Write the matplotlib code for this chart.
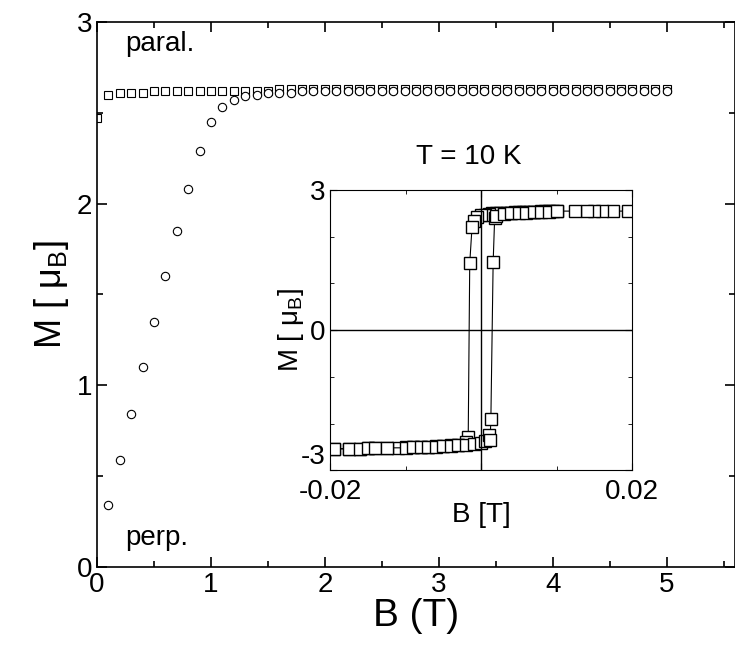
import matplotlib
matplotlib.use("Agg")
from matplotlib import pyplot as plt

plt.rcParams['font.family'] = ['Liberation Sans', 'DejaVu Sans']
plt.rcParams['axes.unicode_minus'] = False

# main panel
b_par = [0.0, 0.1, 0.2, 0.3, 0.4, 0.5, 0.6, 0.7, 0.8, 0.9, 1.0, 1.1, 1.2, 1.3, 1.4, 1.5,
         1.6, 1.7, 1.8, 1.9, 2.0, 2.1, 2.2, 2.3, 2.4, 2.5, 2.6, 2.7, 2.8, 2.9, 3.0,
         3.1, 3.2, 3.3, 3.4, 3.5, 3.6, 3.7, 3.8, 3.9, 4.0, 4.1, 4.2, 4.3, 4.4, 4.5,
         4.6, 4.7, 4.8, 4.9, 5.0]
m_par = [2.47, 2.60, 2.61, 2.61, 2.61, 2.62, 2.62, 2.62, 2.62, 2.62, 2.62, 2.62, 2.62,
         2.62, 2.62, 2.62, 2.63, 2.63, 2.63, 2.63, 2.63, 2.63, 2.63, 2.63, 2.63, 2.63,
         2.63, 2.63, 2.63, 2.63, 2.63, 2.63, 2.63, 2.63, 2.63, 2.63, 2.63, 2.63, 2.63,
         2.63, 2.63, 2.63, 2.63, 2.63, 2.63, 2.63, 2.63, 2.63, 2.63, 2.63, 2.63]
b_perp = [0.1, 0.2, 0.3, 0.4, 0.5, 0.6, 0.7, 0.8, 0.9, 1.0, 1.1, 1.2, 1.3, 1.4, 1.5,
          1.6, 1.7, 1.8, 1.9, 2.0, 2.1, 2.2, 2.3, 2.4, 2.5, 2.6, 2.7, 2.8, 2.9, 3.0,
          3.1, 3.2, 3.3, 3.4, 3.5, 3.6, 3.7, 3.8, 3.9, 4.0, 4.1, 4.2, 4.3, 4.4, 4.5,
          4.6, 4.7, 4.8, 4.9, 5.0]
m_perp = [0.34, 0.59, 0.84, 1.10, 1.35, 1.60, 1.85, 2.08, 2.29, 2.45, 2.53, 2.57, 2.59,
          2.60, 2.61, 2.61, 2.61, 2.62, 2.62, 2.62, 2.62, 2.62, 2.62, 2.62, 2.62, 2.62,
          2.62, 2.62, 2.62, 2.62, 2.62, 2.62, 2.62, 2.62, 2.62, 2.62, 2.62, 2.62, 2.62,
          2.62, 2.62, 2.62, 2.62, 2.62, 2.62, 2.62, 2.62, 2.62, 2.62, 2.62]

# inset hysteresis loop
b_down = [0.0195, 0.0175, 0.0160, 0.0150, 0.0140, 0.0125, 0.0100, 0.0095, 0.0090, 0.0085,
          0.0080, 0.0075, 0.0070, 0.0065, 0.0060, 0.0055, 0.0050, 0.0045, 0.0040, 0.0035,
          0.0030, 0.0025, 0.0020, 0.0015, 0.0010, 0.0005, 0.0, -0.0005, -0.0010,
          -0.0012, -0.0015, -0.0017, -0.0020, -0.0030, -0.0040, -0.0050, -0.0060,
          -0.0070, -0.0080, -0.0090, -0.0100, -0.0110, -0.0125, -0.0140, -0.0150,
          -0.0160, -0.0175, -0.0195]
m_down = [2.55, 2.55, 2.55, 2.55, 2.55, 2.55, 2.55, 2.55, 2.55, 2.55, 2.55, 2.54,
          2.54, 2.54, 2.54, 2.53, 2.53, 2.53, 2.52, 2.52, 2.52, 2.51, 2.50, 2.50, 2.48,
          2.47, 2.46, 2.42, 2.33, 2.20, 1.43, -2.28, -2.40, -2.45, -2.47, -2.48, -2.49,
          -2.50, -2.50, -2.51, -2.51, -2.52, -2.52, -2.53, -2.53, -2.54, -2.54, -2.54]
b_up = [-0.0195, -0.0175, -0.0160, -0.0150, -0.0140, -0.0125, -0.0100, -0.0090, -0.0080,
        -0.0070, -0.0060, -0.0050, -0.0040, -0.0030, -0.0020, -0.0010, 0.0, 0.0005,
        0.0010, 0.0012, 0.0013, 0.0016, 0.0018, 0.0020, 0.0030, 0.0040, 0.0050,
        0.0060, 0.0070, 0.0080, 0.0090, 0.0100]
m_up = [-2.54, -2.54, -2.54, -2.53, -2.53, -2.52, -2.52, -2.51, -2.51, -2.50, -2.50,
        -2.49, -2.48, -2.47, -2.46, -2.44, -2.42, -2.38, -2.25, -2.35, -1.90, 1.45,
        2.40, 2.45, 2.48, 2.50, 2.51, 2.52, 2.53, 2.54, 2.54, 2.55]

fig = plt.figure(figsize=(7.35, 6.67), dpi=100)
ax = fig.add_axes([0.132, 0.150, 0.868, 0.817])
ax.plot(b_par, m_par, ls='none', marker='s', ms=6, mfc='white', mec='black', mew=0.8)
ax.plot(b_perp, m_perp, ls='none', marker='o', ms=6, mfc='white', mec='black', mew=0.8)
ax.set_xlim(0, 5.6)
ax.set_ylim(0, 3)
ax.set_xticks([0, 1, 2, 3, 4, 5])
ax.set_yticks([0, 1, 2, 3])
ax.set_xticks([0.5, 1.5, 2.5, 3.5, 4.5, 5.5], minor=True)
ax.set_yticks([0.5, 1.5, 2.5], minor=True)
ax.tick_params(direction='in', which='both', top=True, right=True, labelsize=20, width=1.2)
ax.tick_params(which='major', length=7)
ax.tick_params(which='minor', length=4)
ax.set_xlabel('B (T)', fontsize=28, labelpad=0)
ax.set_ylabel(r'M [ $\mathregular{\mu_B}$]', fontsize=26, labelpad=4)
for s in ax.spines.values():
    s.set_linewidth(1.2)
ax.text(0.25, 2.84, 'paral.', fontsize=20)
ax.text(0.25, 0.12, 'perp.', fontsize=20)
ax.text(2.8, 2.22, 'T = 10 K', fontsize=20)

ins = fig.add_axes([0.449, 0.295, 0.411, 0.420])
ins.plot(b_down, m_down, color='black', lw=0.8, marker='s', ms=9, mfc='white', mec='black', mew=1)
ins.plot(b_up, m_up, color='black', lw=0.8, marker='s', ms=9, mfc='white', mec='black', mew=1)
ins.axhline(0, color='black', lw=1)
ins.axvline(0, color='black', lw=1)
ins.set_xlim(-0.02, 0.02)
ins.set_ylim(-3, 3)
ins.set_xticks([-0.02, 0, 0.02])
ins.set_xticklabels(['-0.02', '', '0.02'])
ins.set_yticks([-3, 0, 3])
ins.set_xticks([-0.01, 0.01], minor=True)
ins.set_yticks([-2, -1, 1, 2], minor=True)
ins.tick_params(direction='in', which='both', top=True, right=True, labelsize=20)
ins.tick_params(axis='x', which='major', pad=6)
ins.tick_params(which='major', length=5)
ins.tick_params(which='minor', length=3)
for lbl in ins.get_yticklabels():
    if lbl.get_text() == '-3':
        lbl.set_va('bottom')
ins.set_xlabel('B [T]', fontsize=20, labelpad=-2)
ins.set_ylabel(r'M [ $\mathregular{\mu_B}$]', fontsize=20, labelpad=-4)

fig.savefig('out.png', dpi=100)
